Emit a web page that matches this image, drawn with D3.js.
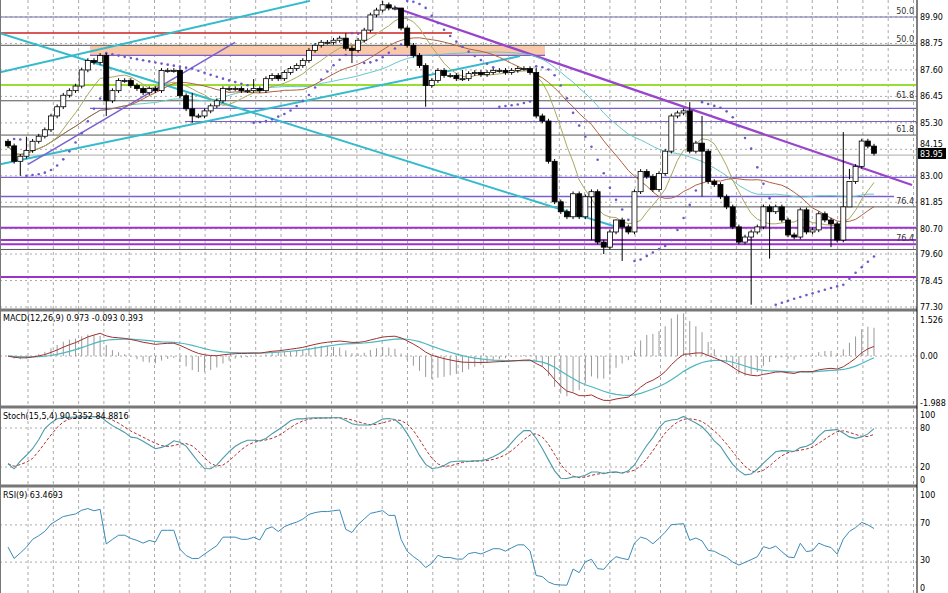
<!DOCTYPE html>
<html><head><meta charset="utf-8">
<script src="https://cdn.jsdelivr.net/npm/d3@7"></script>
<style>body{margin:0;background:#fff}text{font-family:"DejaVu Sans",sans-serif;font-size:8px}</style>
</head><body><svg id="c" width="948" height="593"></svg>
<script>
// closing prices, one per bar
var closes = [84.3,83.63,83.85,84.1,84.5,84.72,85.0,85.6,86.0,86.5,86.7,86.9,87.6,88.01,87.93,88.23,86.26,86.7,87.14,87.14,86.92,86.79,86.61,86.79,86.7,87.58,87.58,87.58,86.48,85.91,85.6,85.6,85.82,86.04,86.26,86.79,86.79,86.79,86.7,86.7,86.79,86.7,87.22,87.36,87.22,87.49,87.66,87.79,88.01,88.45,88.67,88.8,88.8,88.89,88.98,88.54,88.45,88.89,89.33,89.99,90.2,90.43,90.29,90.29,89.42,88.67,88.23,87.79,86.92,87.14,87.58,87.36,87.36,87.22,87.22,87.44,87.49,87.4,87.49,87.58,87.58,87.49,87.58,87.66,87.66,87.49,85.6,85.38,83.63,81.87,81.44,81.22,82.22,81.22,82.09,82.31,80.12,79.9,80.56,81.08,80.78,80.56,82.31,83.19,82.97,82.4,83.1,84.07,85.6,85.73,85.82,84.07,84.42,84.07,82.75,82.62,82.09,81.65,80.78,80.12,80.34,80.56,80.78,81.65,81.44,81.65,81.08,80.43,80.34,81.52,80.56,80.65,81.35,81.08,80.91,80.21,81.65,82.75,83.41,84.51,84.29,83.98];
var wickHigh = {3:84.7,30:86.6,40:87.2,55:89.2,61:90.6,64:90.0,74:87.6,86:87.7,99:81.1,111:86.2,113:85.6,136:84.9};
var wickLow = {2:83.0,16:85.6,30:85.3,56:87.9,68:86.0,95:80.2,97:79.6,100:79.3,113:82.1,121:77.4,124:79.4,134:79.9,137:83.3};
var priceTicks = ["89.90","88.75","87.60","86.45","85.30","84.15","83.00","81.85","80.70","79.60","78.45","77.30"];
var hLevels = [ // price, colour, width, x0, x1
 [89.9,"#6e6ea8",1.2,0,916],[88.67,"#555",1,0,916],[89.2,"#cc2222",1.5,0,452],
 [88.23,"#7b5fd0",1.2,90,545],[86.95,"#99dd33",2,0,916],[86.26,"#555",1,0,916],
 [85.93,"#7b5fd0",1.2,90,916],[85.36,"#7b5fd0",1.2,185,916],[84.77,"#555",1,0,916],
 [83.9,"#aaa",1,0,916],[82.93,"#7b5fd0",1.3,0,916],[82.1,"#7b5fd0",1.3,0,894],
 [81.65,"#555",1,0,916],[80.74,"#9933cc",2,0,916],[80.21,"#9933cc",2.2,0,916],
 [80.03,"#9933cc",2,0,916],[79.8,"#555",1,0,916],[78.6,"#9933cc",2,0,916]];
var fibLabels = [["50.0",89.9],["50.0",88.67],["61.8",86.26],["61.8",84.77],["76.4",81.65],["76.4",80.03]];
var trendLines = [ // [x0,p0,x1,p1,colour,width]
 [0,87.5,310,90.6,"#33bbcc",2],[0,83.5,520,88.2,"#33bbcc",2],[0,89.2,615,80.8,"#33bbcc",2],
 [28,83.5,235,88.8,"#7b5fd0",1.5],[395,90.3,912,82.6,"#9944cc",2.2]];
var macdTicks = [1.526,0,-1.988], stochTicks = [100,80,20,0], rsiTicks = [100,70,30,0];

var svg = d3.select("#c");
var n = closes.length, right = 917;
var xs = d3.scaleLinear().domain([0, n-1]).range([8, 874]);
var y = d3.scaleLinear().domain([77.3, 89.9]).range([307, 17]);
var yM = d3.scaleLinear().domain([-1.988, 1.526]).range([403, 320]);
var yS = d3.scaleLinear().domain([0, 100]).range([480, 415]);
var yR = d3.scaleLinear().domain([0, 100]).range([590, 497]);

var opens = closes.map((c,i) => i ? closes[i-1] : c + 0.2);
var hi = closes.map((c,i) => wickHigh[i] || Math.max(c, opens[i]) + 0.1);
var lo = closes.map((c,i) => wickLow[i] || Math.min(c, opens[i]) - 0.1);

// grids
var panels = [[0,309],[311,406],[409,485],[488,593]];
for (var gx = 28; gx < right; gx += 25.3)
  panels.forEach(p => svg.append("line").attr("x1",gx).attr("x2",gx).attr("y1",p[0]).attr("y2",p[1])
    .attr("stroke","#aaa").attr("stroke-dasharray","3,3"));
var dotH = (yy) => svg.append("line").attr("x1",0).attr("x2",right).attr("y1",yy).attr("y2",yy).attr("stroke","#aaa").attr("stroke-dasharray","2,3");
priceTicks.forEach(t => dotH(y(+t)));
dotH(yM(0)); [80,20].forEach(v => dotH(yS(v))); [70,30].forEach(v => dotH(yR(v)));

// band, levels, trendlines
svg.append("rect").attr("x",90).attr("width",455).attr("y",y(88.67)).attr("height",y(88.23)-y(88.67)).attr("fill","#f8c8a8");
hLevels.forEach(h => svg.append("line").attr("x1",h[3]).attr("x2",h[4]).attr("y1",y(h[0])).attr("y2",y(h[0])).attr("stroke",h[1]).attr("stroke-width",h[2]));
trendLines.forEach(t => svg.append("line").attr("x1",t[0]).attr("y1",y(t[1])).attr("x2",t[2]).attr("y2",y(t[3])).attr("stroke",t[4]).attr("stroke-width",t[5]));
fibLabels.forEach(f => svg.append("text").attr("x",914).attr("y",y(f[1])-3).attr("text-anchor","end").attr("fill","#333").text(f[0]));

// moving averages
function sma(p){ return closes.map((c,i)=>{ var a=Math.max(0,i-p+1), s=closes.slice(a,i+1); return d3.mean(s); }); }
var line = (arr, sc) => d3.line().x((d,i)=>xs(i)).y(d=>sc(d)).defined(d=>d!=null)(arr);
[[34,"#66c8c8"],[21,"#b06040"],[8,"#a8a860"]].forEach(m =>
  svg.append("path").attr("d",line(sma(m[0]),y)).attr("fill","none").attr("stroke",m[1]).attr("stroke-width",1));

// parabolic SAR
(function(){
  var up=true, af=0.02, ep=hi[0], sar=lo[0];
  for (var i=1;i<n;i++){
    sar = sar + af*(ep-sar);
    if (up){ if (lo[i]<sar){up=false;sar=ep;ep=lo[i];af=0.02;} else if (hi[i]>ep){ep=hi[i];af=Math.min(0.2,af+0.02);} }
    else { if (hi[i]>sar){up=true;sar=ep;ep=hi[i];af=0.02;} else if (lo[i]<ep){ep=lo[i];af=Math.min(0.2,af+0.02);} }
    svg.append("circle").attr("cx",xs(i)).attr("cy",y(sar)).attr("r",1.3).attr("fill","#6a5acd");
  }
})();

// candles
closes.forEach((c,i) => {
  var o = opens[i], X = xs(i);
  svg.append("line").attr("x1",X).attr("x2",X).attr("y1",y(hi[i])).attr("y2",y(lo[i])).attr("stroke","#000");
  var t = y(Math.max(o,c)), b = y(Math.min(o,c));
  svg.append("rect").attr("x",X-2.5).attr("width",5).attr("y",t).attr("height",Math.max(1,b-t))
    .attr("fill", c < o ? "#000" : "#fff").attr("stroke","#000").attr("stroke-width",0.8);
});

// MACD
function ema(arr,p){ var k=2/(p+1), e=arr[0]; return arr.map(v => e = v*k + e*(1-k)); }
var macd = d3.zip(ema(closes,12), ema(closes,26)).map(d => d[0]-d[1]);
var sig = ema(macd, 9);
macd.forEach((m,i) => svg.append("line").attr("x1",xs(i)).attr("x2",xs(i)).attr("y1",yM(0)).attr("y2",yM((m-sig[i])*2.5)).attr("stroke","#999"));
svg.append("path").attr("d",line(sig,yM)).attr("fill","none").attr("stroke","#4cb8c0").attr("stroke-width",1.2);
svg.append("path").attr("d",line(macd,yM)).attr("fill","none").attr("stroke","#a03030").attr("stroke-width",1);

// Stochastic 15,5,4
var rawK = closes.map((c,i)=>{ var a=Math.max(0,i-14), H=d3.max(hi.slice(a,i+1)), L=d3.min(lo.slice(a,i+1)); return 100*(c-L)/(H-L||1); });
function smaA(arr,p){ return arr.map((v,i)=>d3.mean(arr.slice(Math.max(0,i-p+1),i+1))); }
var K = smaA(rawK,5), D = smaA(K,4);
svg.append("path").attr("d",line(D,yS)).attr("fill","none").attr("stroke","#b03030").attr("stroke-dasharray","3,2");
svg.append("path").attr("d",line(K,yS)).attr("fill","none").attr("stroke","#4a9aa8").attr("stroke-width",1.1);

// RSI 9
var rsi = [], ag=0.12, al=0.14;
for (var i=0;i<n;i++){ var ch=i?closes[i]-closes[i-1]:0; ag=(ag*8+Math.max(ch,0))/9; al=(al*8+Math.max(-ch,0))/9; rsi.push(100-100/(1+ag/al)); }
svg.append("path").attr("d",line(rsi,yR)).attr("fill","none").attr("stroke","#3a8ab8").attr("stroke-width",1);

// frames, axis
[310,407,486].forEach(yy => svg.append("rect").attr("x",0).attr("width",right).attr("y",yy-1.5).attr("height",3).attr("fill","#777"));
svg.append("line").attr("x1",right).attr("x2",right).attr("y1",0).attr("y2",593).attr("stroke","#000");
svg.append("line").attr("x1",0.5).attr("x2",0.5).attr("y1",0).attr("y2",593).attr("stroke","#777");
var lab = (v,yy) => svg.append("text").attr("x",920).attr("y",Math.min(yy+3,591)).attr("fill","#000").text(v);
priceTicks.filter(t => t != "84.15").forEach(t => lab(t, y(+t)));
lab("1.526",yM(1.526)); lab("0.00",yM(0)); lab("-1.988",yM(-1.988));
stochTicks.forEach(v => lab(v, yS(v))); rsiTicks.forEach(v => lab(v, yR(v)-2));
svg.append("rect").attr("x",918).attr("y",y(83.95)-6).attr("width",28).attr("height",11).attr("fill","#000");
svg.append("text").attr("x",920).attr("y",y(83.95)+3).attr("fill","#fff").text("83.95");
svg.append("text").attr("x",920).attr("y",y(84.15)-2).attr("fill","#000").text("84.15");
svg.append("text").attr("x",3).attr("y",321).text("MACD(12,26,9) 0.973 -0.093 0.393");
svg.append("text").attr("x",3).attr("y",419).text("Stoch(15,5,4) 90.5352 84.8816");
svg.append("text").attr("x",3).attr("y",498).text("RSI(9) 63.4693");
</script></body></html>
